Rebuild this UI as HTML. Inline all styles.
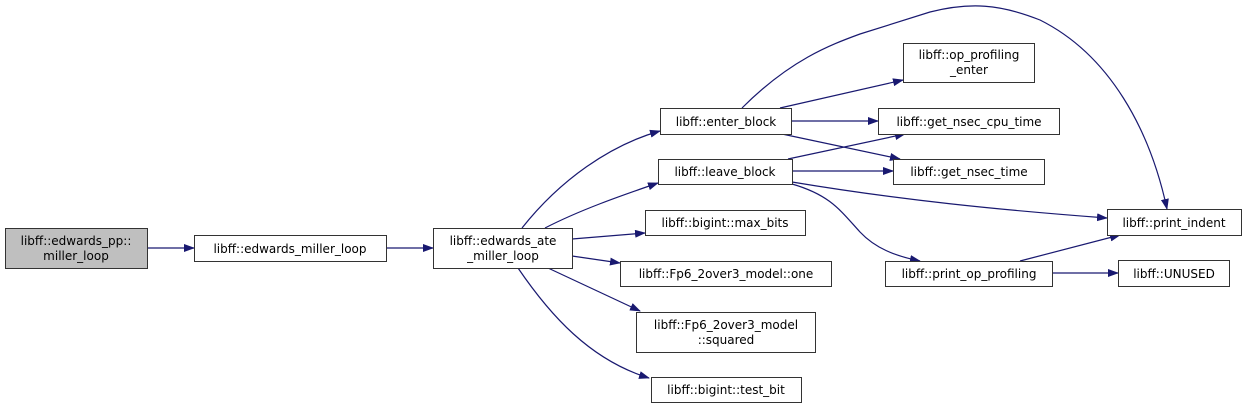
<!DOCTYPE html>
<html><head><meta charset="utf-8"><style>
html,body{margin:0;padding:0;background:#fff;}
svg{display:block;}
text{font-family:"DejaVu Sans","Liberation Sans",sans-serif;font-size:12px;fill:#000;}
</style></head><body>
<svg width="1245" height="409" viewBox="0 0 1245 409" xmlns="http://www.w3.org/2000/svg">
<defs>
<marker id="ar" markerWidth="11" markerHeight="8" refX="10" refY="4" orient="auto" markerUnits="userSpaceOnUse">
<path d="M0,0 L11,4 L0,8 Z" fill="#191970"/>
</marker>
</defs>
<g fill="none" stroke="#191970" stroke-width="1.2" marker-end="url(#ar)">
<path d="M147,248 L194,248"/>
<path d="M386,248 L433,248"/>
<path d="M522,228 C560,180 610,145 660,131"/>
<path d="M545,228 C580,210 620,196 658,183"/>
<path d="M572,239 L645,233"/>
<path d="M572,256 L620,263"/>
<path d="M548,268 L640,311"/>
<path d="M518,268 C550,315 590,360 649,378"/>
<path d="M780,108 L903,80"/>
<path d="M791,121 L878,121"/>
<path d="M782,134 L900,159"/>
<path d="M742,108 C790,60 830,45 860,34 L930,12 C970,2 1000,4 1040,20 C1110,55 1150,130 1167,209"/>
<path d="M788,159 L905,134"/>
<path d="M792,171 L893,171"/>
<path d="M792,182 C900,200 1000,210 1107,218"/>
<path d="M792,184 C830,195 840,210 860,232 C875,248 895,256 920,261"/>
<path d="M1020,261 L1120,235"/>
<path d="M1052,273 L1118,273"/>
</g>
<g stroke="#333" stroke-width="1" fill="#fff">
<rect x="5.5" y="228.5" width="142" height="40" fill="#bfbfbf"/>
<rect x="194.5" y="235.5" width="192" height="26"/>
<rect x="433.5" y="228.5" width="139" height="40"/>
<rect x="660.5" y="108.5" width="131" height="26"/>
<rect x="658.5" y="159.5" width="134" height="25"/>
<rect x="645.5" y="210.5" width="160" height="25"/>
<rect x="620.5" y="261.5" width="211" height="25"/>
<rect x="636.5" y="312.5" width="179" height="40"/>
<rect x="651.5" y="377.5" width="150" height="25"/>
<rect x="903.5" y="43.5" width="131" height="39"/>
<rect x="878.5" y="108.5" width="181" height="26"/>
<rect x="893.5" y="159.5" width="151" height="25"/>
<rect x="1107.5" y="209.5" width="134" height="26"/>
<rect x="885.5" y="261.5" width="167" height="25"/>
<rect x="1118.5" y="260.5" width="111" height="26"/>
</g>
<g text-anchor="middle">
<text x="76" y="245">libff::edwards_pp::</text>
<text x="76" y="260">miller_loop</text>
<text x="290" y="253">libff::edwards_miller_loop</text>
<text x="503" y="245">libff::edwards_ate</text>
<text x="503" y="260">_miller_loop</text>
<text x="726" y="126">libff::enter_block</text>
<text x="725" y="176">libff::leave_block</text>
<text x="725" y="227">libff::bigint::max_bits</text>
<text x="726" y="278">libff::Fp6_2over3_model::one</text>
<text x="726" y="329">libff::Fp6_2over3_model</text>
<text x="726" y="344">::squared</text>
<text x="726" y="394">libff::bigint::test_bit</text>
<text x="969" y="59">libff::op_profiling</text>
<text x="969" y="74">_enter</text>
<text x="969" y="126">libff::get_nsec_cpu_time</text>
<text x="969" y="176">libff::get_nsec_time</text>
<text x="1174" y="227">libff::print_indent</text>
<text x="969" y="278">libff::print_op_profiling</text>
<text x="1174" y="278">libff::UNUSED</text>
</g>
</svg>
</body></html>
